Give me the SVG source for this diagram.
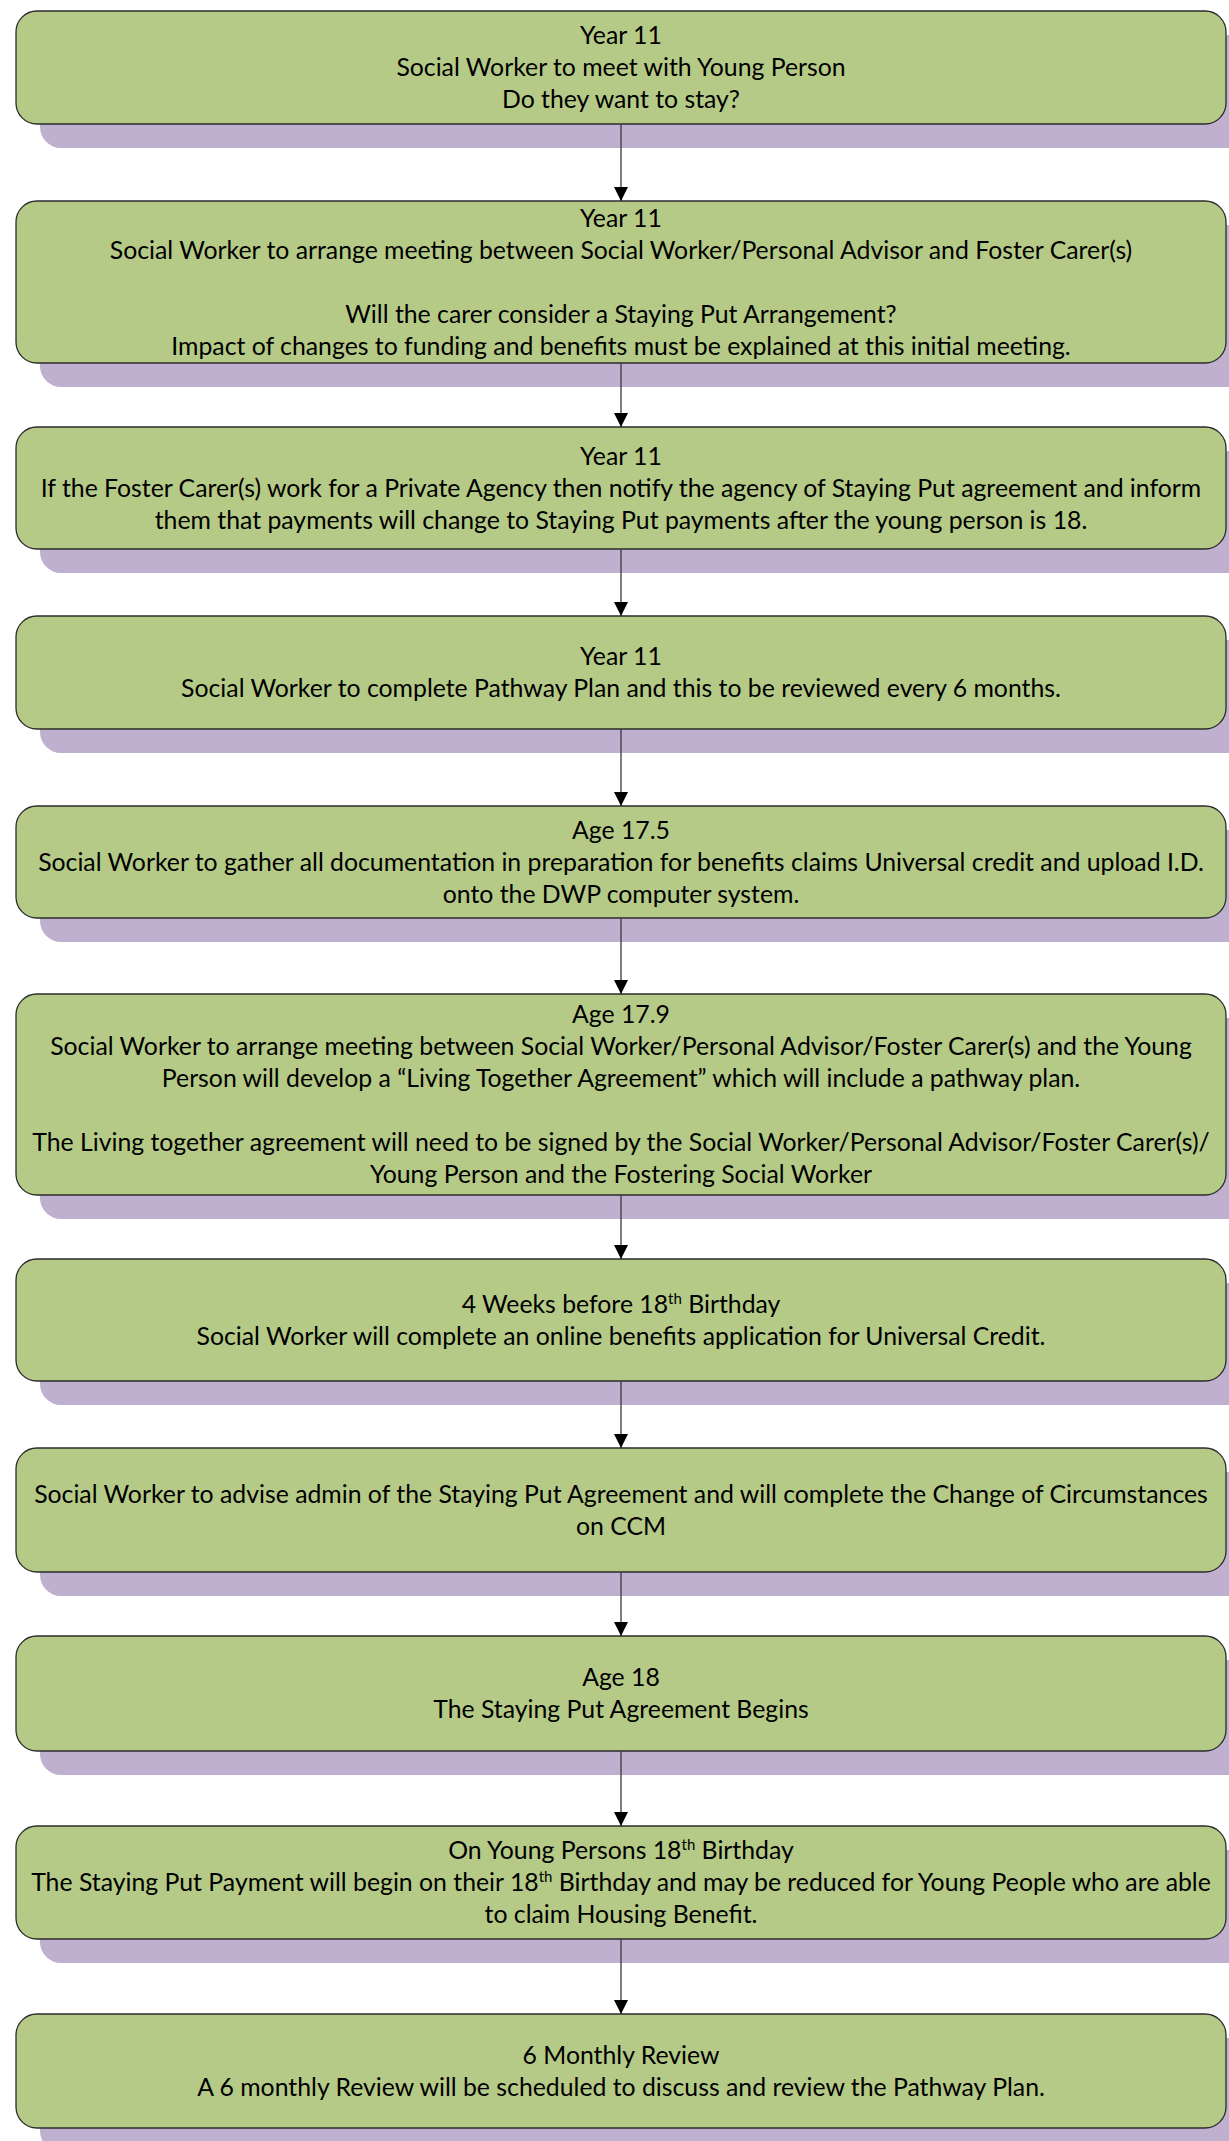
<svg xmlns="http://www.w3.org/2000/svg" width="1229" height="2141" viewBox="0 0 1229 2141">
<style>
.sh{fill:#BFB0D0;}
.bx{fill:#B6CA87;stroke:#2B2B2B;stroke-width:1.3;}
.t{font-family:Lato,"Liberation Sans",sans-serif;font-size:24.8px;fill:#000;text-anchor:middle;}
.sup{font-size:15px;}
.cn{stroke:#3A3A3A;stroke-width:1.3;fill:none;marker-end:url(#ah);}
</style>
<defs>
<marker id="ah" markerUnits="userSpaceOnUse" markerWidth="14" markerHeight="14" viewBox="0 0 14 14" refX="14" refY="7" orient="auto">
<path d="M0,0 L14,7 L0,14 Z" fill="#000"/>
</marker>
</defs>
<rect width="1229" height="2141" fill="#fff"/>

<g id="n1"><rect class="sh" x="40" y="35" width="1210" height="113" rx="21"/><rect class="bx" x="16" y="11" width="1210" height="113" rx="21"/>
<text class="t" x="621" y="44">Year 11</text>
<text class="t" x="621" y="76">Social Worker to meet with Young Person</text>
<text class="t" x="621" y="108">Do they want to stay?</text></g>

<g id="n2"><rect class="sh" x="40" y="225" width="1210" height="162" rx="21"/><rect class="bx" x="16" y="201" width="1210" height="162" rx="21"/>
<text class="t" x="621" y="226.5">Year 11</text>
<text class="t" x="621" y="258.5">Social Worker to arrange meeting between Social Worker/Personal Advisor and Foster Carer(s)</text>
<text class="t" x="621" y="322.5">Will the carer consider a Staying Put Arrangement?</text>
<text class="t" x="621" y="354.5">Impact of changes to funding and benefits must be explained at this initial meeting.</text></g>

<g id="n3"><rect class="sh" x="40" y="451" width="1210" height="122" rx="21"/><rect class="bx" x="16" y="427" width="1210" height="122" rx="21"/>
<text class="t" x="621" y="464.5">Year 11</text>
<text class="t" x="621" y="496.5">If the Foster Carer(s) work for a Private Agency then notify the agency of Staying Put agreement and inform</text>
<text class="t" x="621" y="528.5">them that payments will change to Staying Put payments after the young person is 18.</text></g>

<g id="n4"><rect class="sh" x="40" y="640" width="1210" height="113" rx="21"/><rect class="bx" x="16" y="616" width="1210" height="113" rx="21"/>
<text class="t" x="621" y="665">Year 11</text>
<text class="t" x="621" y="697">Social Worker to complete Pathway Plan and this to be reviewed every 6 months.</text></g>

<g id="n5"><rect class="sh" x="40" y="830" width="1210" height="112" rx="21"/><rect class="bx" x="16" y="806" width="1210" height="112" rx="21"/>
<text class="t" x="621" y="838.5">Age 17.5</text>
<text class="t" x="621" y="870.5">Social Worker to gather all documentation in preparation for benefits claims Universal credit and upload I.D.</text>
<text class="t" x="621" y="902.5">onto the DWP computer system.</text></g>

<g id="n6"><rect class="sh" x="40" y="1018" width="1210" height="201" rx="21"/><rect class="bx" x="16" y="994" width="1210" height="201" rx="21"/>
<text class="t" x="621" y="1023">Age 17.9</text>
<text class="t" x="621" y="1055">Social Worker to arrange meeting between Social Worker/Personal Advisor/Foster Carer(s) and the Young</text>
<text class="t" x="621" y="1087">Person will develop a “Living Together Agreement” which will include a pathway plan.</text>
<text class="t" x="621" y="1151">The Living together agreement will need to be signed by the Social Worker/Personal Advisor/Foster Carer(s)/</text>
<text class="t" x="621" y="1183">Young Person and the Fostering Social Worker</text></g>

<g id="n7"><rect class="sh" x="40" y="1283" width="1210" height="122" rx="21"/><rect class="bx" x="16" y="1259" width="1210" height="122" rx="21"/>
<text class="t" x="621" y="1312.5">4 Weeks before 18<tspan class="sup" dy="-9">th</tspan><tspan dy="9"> Birthday</tspan></text>
<text class="t" x="621" y="1344.5">Social Worker will complete an online benefits application for Universal Credit.</text></g>

<g id="n8"><rect class="sh" x="40" y="1472" width="1210" height="124" rx="21"/><rect class="bx" x="16" y="1448" width="1210" height="124" rx="21"/>
<text class="t" x="621" y="1502.5">Social Worker to advise admin of the Staying Put Agreement and will complete the Change of Circumstances</text>
<text class="t" x="621" y="1534.5">on CCM</text></g>

<g id="n9"><rect class="sh" x="40" y="1660" width="1210" height="115" rx="21"/><rect class="bx" x="16" y="1636" width="1210" height="115" rx="21"/>
<text class="t" x="621" y="1686">Age 18</text>
<text class="t" x="621" y="1718">The Staying Put Agreement Begins</text></g>

<g id="n10"><rect class="sh" x="40" y="1850" width="1210" height="113" rx="21"/><rect class="bx" x="16" y="1826" width="1210" height="113" rx="21"/>
<text class="t" x="621" y="1859">On Young Persons 18<tspan class="sup" dy="-9">th</tspan><tspan dy="9"> Birthday</tspan></text>
<text class="t" x="621" y="1891">The Staying Put Payment will begin on their 18<tspan class="sup" dy="-9">th</tspan><tspan dy="9"> Birthday and may be reduced for Young People who are able</tspan></text>
<text class="t" x="621" y="1923">to claim Housing Benefit.</text></g>

<g id="n11"><rect class="sh" x="40" y="2038" width="1210" height="114" rx="21"/><rect class="bx" x="16" y="2014" width="1210" height="114" rx="21"/>
<text class="t" x="621" y="2063.5">6 Monthly Review</text>
<text class="t" x="621" y="2095.5">A 6 monthly Review will be scheduled to discuss and review the Pathway Plan.</text></g>

<g id="connectors">
<path class="cn" d="M621,124 V201"/>
<path class="cn" d="M621,363 V427"/>
<path class="cn" d="M621,549 V616"/>
<path class="cn" d="M621,729 V806"/>
<path class="cn" d="M621,918 V994"/>
<path class="cn" d="M621,1195 V1259"/>
<path class="cn" d="M621,1381 V1448"/>
<path class="cn" d="M621,1572 V1636"/>
<path class="cn" d="M621,1751 V1826"/>
<path class="cn" d="M621,1939 V2014"/>
</g>
</svg>
